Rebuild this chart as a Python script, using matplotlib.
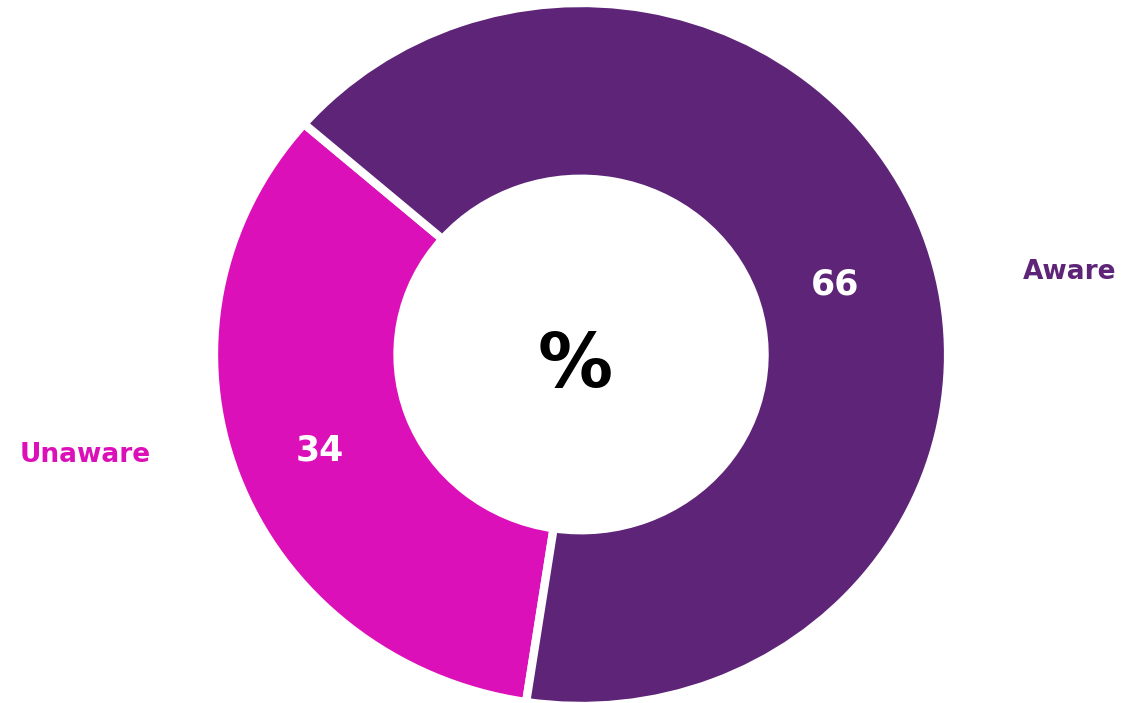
import numpy as np
import matplotlib
matplotlib.use("Agg")
import matplotlib.pyplot as plt

# donnees
categorias = ["Unaware", "Aware"]
valores = [34, 66]
cores = ["#DC10B8", "#5E2478"]

fig = plt.figure(figsize=(11.25, 7.03), dpi=100)
ax = fig.add_axes([0, 0, 1, 1])

ax.pie(valores, colors=cores, startangle=139, counterclock=True, radius=1.0,
       wedgeprops=dict(width=0.5, edgecolor="white", linewidth=6))

# elipse leve como na imagem original
ax.set_aspect("auto")
ax.set_xlim(-1.583, 1.482)
ax.set_ylim(-0.9915, 1.0085)
ax.axis("off")

fonte = "DejaVu Sans"
# valores dentro das fatias
ax.text(0.692, 0.198, str(valores[1]), color="white", fontsize=25, fontweight="bold",
        family=fonte, ha="center", va="center")
ax.text(-0.711, -0.272, str(valores[0]), color="white", fontsize=25, fontweight="bold",
        family=fonte, ha="center", va="center")
# nomes das categorias
ax.text(1.332, 0.235, categorias[1], color=cores[1], fontsize=19, fontweight="bold",
        family=fonte, ha="center", va="center")
ax.text(-1.352, -0.285, categorias[0], color=cores[0], fontsize=19, fontweight="bold",
        family=fonte, ha="center", va="center")
# centro
ax.text(-0.016, -0.035, "%", color="black", fontsize=54, fontweight="bold",
        family=fonte, ha="center", va="center")

fig.savefig("out.png", dpi=100, facecolor="white")
